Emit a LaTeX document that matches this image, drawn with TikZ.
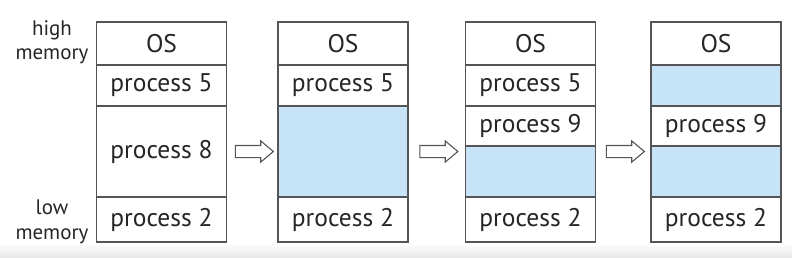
\documentclass[tikz,border=0pt]{standalone}
\usepackage{fontspec}
\setmainfont{PT Sans}
\usetikzlibrary{shapes.arrows,calc}
\definecolor{holeblue}{RGB}{199,227,247}
\definecolor{edgegray}{RGB}{85,85,85}

\begin{document}
\begin{tikzpicture}[x=1pt,y=-1pt,
  blk/.style={draw=edgegray,line width=1.3pt,fill=white,minimum width=130pt,
    inner sep=0pt,text=black!85,font=\fontsize{25.5}{28}\selectfont},
  hole/.style={blk,fill=holeblue},
  side/.style={align=center,text=black!85,font=\fontsize{21}{24.5}\selectfont},
  fwd/.style={single arrow,draw=edgegray,fill=white,line width=1.1pt,
    minimum height=38pt,inner xsep=0pt,inner ysep=5.5pt,
    single arrow head extend=4.5pt,single arrow head indent=0pt,
    single arrow tip angle=80}]
\useasboundingbox (0,0) rectangle (792,257);
\shade[top color=white,bottom color=black!9] (0,243) rectangle (792,257);
\node[side] (hi) at (52,42) {high\\memory};
\node[side] (lo) at (52,222) {low\\memory};
% first column
\node[blk,minimum height=43pt] (os1) at (161.5,43.5) {OS};
\node[blk,minimum height=41pt] (p5a) at (161.5,85.5) {process 5};
\node[blk,minimum height=91pt] (p8) at (161.5,151.5) {process 8};
\node[blk,minimum height=45pt] (p2a) at (161.5,219.5) {process 2};
% second column
\node[blk,minimum height=43pt] (os2) at (343,43.5) {OS};
\node[blk,minimum height=41pt] (p5b) at (343,85.5) {process 5};
\node[hole,minimum height=91pt] (h2) at (343,151.5) {};
\node[blk,minimum height=45pt] (p2b) at (343,219.5) {process 2};
% third column
\node[blk,minimum height=43pt] (os3) at (530.5,43.5) {OS};
\node[blk,minimum height=41pt] (p5c) at (530.5,85.5) {process 5};
\node[blk,minimum height=40pt] (p9a) at (530.5,126) {process 9};
\node[hole,minimum height=51pt] (h3) at (530.5,171.5) {};
\node[blk,minimum height=45pt] (p2c) at (530.5,219.5) {process 2};
% fourth column
\node[blk,minimum height=43pt] (os4) at (716,43.5) {OS};
\node[hole,minimum height=41pt] (h4a) at (716,85.5) {};
\node[blk,minimum height=40pt] (p9b) at (716,126) {process 9};
\node[hole,minimum height=51pt] (h4b) at (716,171.5) {};
\node[blk,minimum height=45pt] (p2d) at (716,219.5) {process 2};
\foreach \l/\r in {p8/h2,h2/h3,h3/h4b}
  \node[fwd] at ($(\l.east |- h2)!0.5!(\r.west |- h2)+(-1.5,0)$) {};
\end{tikzpicture}
\end{document}
